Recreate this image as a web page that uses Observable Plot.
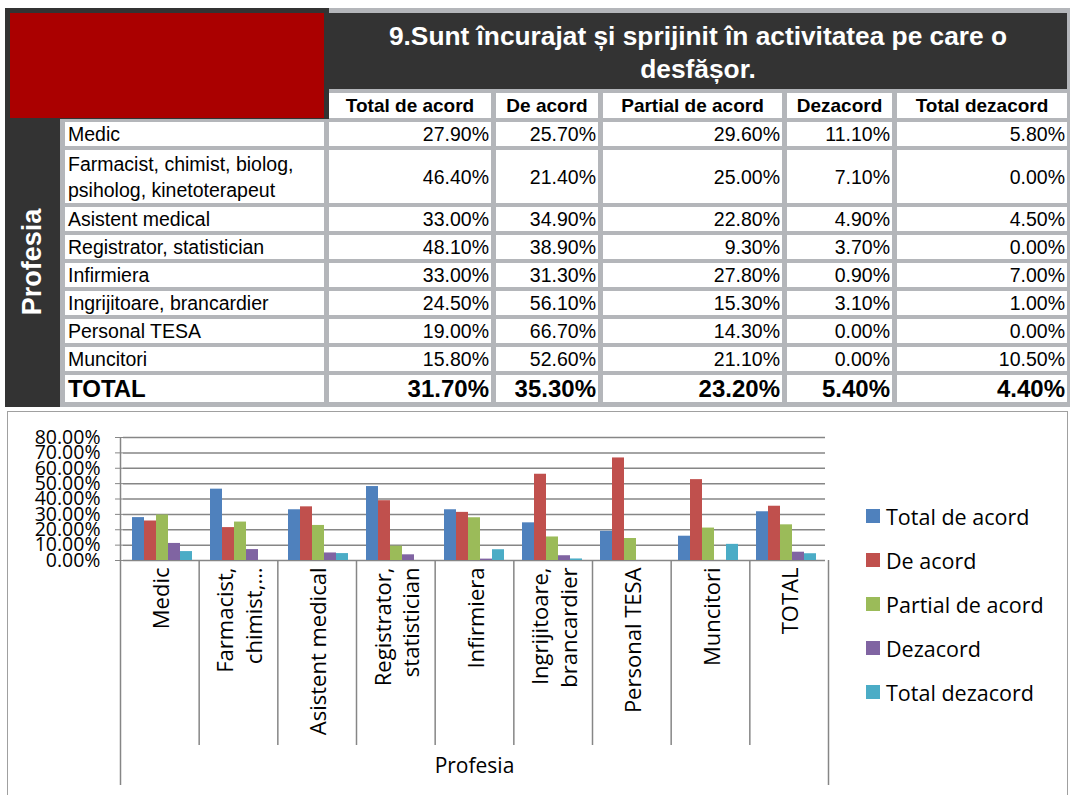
<!DOCTYPE html>
<html>
<head>
<meta charset="utf-8">
<script src="https://cdn.jsdelivr.net/npm/d3@7"></script>
<script src="https://cdn.jsdelivr.net/npm/@observablehq/plot@0.6"></script>
<style>
  body { margin: 0; background: #fff; }
  #page { position: relative; width: 1070px; height: 795px; overflow: hidden; font-family: "Liberation Sans", Arial, sans-serif; }
  #tbl { position: absolute; left: 5px; top: 8px; box-sizing: border-box; width: 1065px; padding: 5px 3px 5px 0;
         background: #b4b6ba; display: grid;
         grid-template-columns: 55px 259px 162px 102px 179px 105px 170px;
         grid-template-rows: 76px 25px 24px 53px 24px 24px 24px 24px 24px 24px 27px;
         column-gap: 5px; row-gap: 4px; }
  .back { position: absolute; background: #333333; z-index: 0; }
  .cell { position: relative; z-index: 1; background: #fff; color: #000; font-size: 19.5px; line-height: 24px;
          box-sizing: border-box; overflow: hidden; white-space: pre; display: flex; align-items: center; }
  .num { justify-content: flex-end; padding-right: 2px; }
  .lab { padding-left: 3px; line-height: 26px; }
  .hdr { justify-content: center; font-weight: bold; font-size: 19px; }
  .tot { font-weight: bold; font-size: 24px; }
  .title { background: #333333; color: #fff; font-weight: bold; font-size: 26.3px; line-height: 33px;
           justify-content: center; text-align: center; white-space: normal; padding-top: 3px; }
  .red { background: #aa0000; margin-left: 5px; }
  .prof { background: #333333; color: #fff; justify-content: center; overflow: visible; }
  .prof span { display: block; transform: rotate(-90deg); font-weight: bold; font-size: 27px; white-space: nowrap; }
  #frame { position: absolute; left: 7px; top: 411px; width: 1061px; height: 400px; box-sizing: border-box;
           border: 1.5px solid #a0a0a0; background: #fff; }
  .layer { position: absolute; left: 0; top: 0; }
  .layer svg [aria-label^="y-axis"] text { fill: #000; }
  #legend { position: absolute; left: 866px; top: 494px; font-family: "Open Sans", sans-serif; font-size: 21.5px; color: #000; }
  .li { display: flex; align-items: center; height: 44px; }
  .sw { width: 14px; height: 14px; margin-right: 6px; }
</style>
</head>
<body>
<div id="page">
  <div id="tbl"></div>
  <div id="frame"></div>
  <div id="bars" class="layer"></div>
  <div id="cats" class="layer"></div>
  <div id="legend"></div>
</div>
<script>
// ---------- data ----------
const titleLines = ["9.Sunt încurajat și sprijinit în activitatea pe care o", "desfășor."];
const groupLabel = "Profesia";
const professions = ["Medic", "Farmacist, chimist, biolog,\npsiholog, kinetoterapeut", "Asistent medical",
  "Registrator, statistician", "Infirmiera", "Ingrijitoare, brancardier", "Personal TESA", "Muncitori", "TOTAL"];
const chartLabels = ["Medic", "Farmacist,\nchimist,…", "Asistent medical", "Registrator,\nstatistician",
  "Infirmiera", "Ingrijitoare,\nbrancardier", "Personal TESA", "Muncitori", "TOTAL"];
const series = ["Total de acord", "De acord", "Partial de acord", "Dezacord", "Total dezacord"];
const colors = ["#4f81bd", "#c0504d", "#9bbb59", "#8064a2", "#4bacc6"];
const totalDeAcord  = [27.9, 46.4, 33.0, 48.1, 33.0, 24.5, 19.0, 15.8, 31.7];
const deAcord       = [25.7, 21.4, 34.9, 38.9, 31.3, 56.1, 66.7, 52.6, 35.3];
const partialAcord  = [29.6, 25.0, 22.8,  9.3, 27.8, 15.3, 14.3, 21.1, 23.2];
const dezacord      = [11.1,  7.1,  4.9,  3.7,  0.9,  3.1,  0.0,  0.0,  5.4];
const totalDezacord = [ 5.8,  0.0,  4.5,  0.0,  7.0,  1.0,  0.0, 10.5,  4.4];
const yTicks = [0, 10, 20, 30, 40, 50, 60, 70, 80];
const yTickLabels = ["0.00%", "10.00%", "20.00%", "30.00%", "40.00%", "50.00%", "60.00%", "70.00%", "80.00%"];

const seriesValues = [totalDeAcord, deAcord, partialAcord, dezacord, totalDezacord];
const fmt = v => v.toFixed(2) + "%";

// ---------- table ----------
const tbl = document.getElementById("tbl");
function add(cls, text, col, row, html) {
  const d = document.createElement("div");
  d.className = "cell " + cls;
  d.style.gridColumn = col; d.style.gridRow = row;
  if (html) d.innerHTML = html; else d.textContent = text;
  tbl.appendChild(d);
  return d;
}
const b1 = document.createElement("div"); b1.className = "back";
Object.assign(b1.style, {left: "0px", top: "0px", width: "324px", height: "111px"}); tbl.appendChild(b1);
const b2 = document.createElement("div"); b2.className = "back";
Object.assign(b2.style, {left: "0px", top: "0px", width: "55px", height: "100%"}); tbl.appendChild(b2);

add("red", "", "1 / 3", "1 / 3");
add("title", "", "3 / 8", "1", titleLines.join("<br>"));
series.forEach((s, j) => add("hdr", s, String(j + 3), "2"));
add("prof", "", "1", "3 / 12", `<span>${groupLabel}</span>`);
professions.forEach((p, i) => {
  const isTot = i === professions.length - 1;
  add("lab" + (isTot ? " tot" : ""), p, "2", String(i + 3));
  seriesValues.forEach((vals, j) => add("num" + (isTot ? " tot" : ""), fmt(vals[i]), String(j + 3), String(i + 3)));
});

// ---------- chart ----------
const rows = professions.flatMap((c, i) => series.map((s, j) => ({cat: c, series: s, value: seriesValues[j][i]})));
const grid = "#868686";

const bars = Plot.plot({
  width: 1070, height: 795,
  marginLeft: 120, marginRight: 242, marginTop: 437, marginBottom: 235,
  style: {background: "transparent", color: grid, fontFamily: "Open Sans", fontSize: "19.5px"},
  facet: {data: rows, x: "cat"},
  fx: {domain: professions, padding: 0, axis: null},
  x: {domain: series, paddingInner: 0, paddingOuter: 0.7, axis: null},
  y: {domain: [0, 80], ticks: yTicks, tickFormat: d => yTickLabels[yTicks.indexOf(d)], tickSize: 8, tickPadding: 15, label: null},
  color: {domain: series, range: colors},
  marks: [
    Plot.ruleY(yTicks, {stroke: grid, strokeWidth: 1.5}),
    Plot.barY(rows, {x: "series", y: "value", fill: "series"})
  ]
});
document.getElementById("bars").appendChild(bars);

const n = chartLabels.length;
const cats = Plot.plot({
  width: 1070, height: 795,
  marginLeft: 120, marginRight: 242, marginTop: 560, marginBottom: 50,
  style: {background: "transparent", fontFamily: "Open Sans"},
  x: {domain: [0, n], axis: null},
  marks: [
    Plot.ruleX(d3.range(1, n), {stroke: grid, strokeWidth: 1.5}),
    Plot.ruleX([0], {stroke: grid, strokeWidth: 1.5, insetTop: -123, insetBottom: -40}),
    Plot.ruleX([n], {stroke: grid, strokeWidth: 1.5, insetBottom: -40}),
    Plot.text(chartLabels, {x: (d, i) => i + 0.5, text: d => d, frameAnchor: "top", rotate: -90,
      textAnchor: "end", lineAnchor: "middle", dy: 7, fontSize: 22, lineHeight: 1.3, fill: "#000"}),
    Plot.text([groupLabel], {x: n / 2, text: d => d, frameAnchor: "bottom", dy: 27, fontSize: 21, fill: "#000"})
  ]
});
document.getElementById("cats").appendChild(cats);

// ---------- legend ----------
const legend = document.getElementById("legend");
series.forEach((s, j) => {
  const li = document.createElement("div"); li.className = "li";
  const sw = document.createElement("div"); sw.className = "sw"; sw.style.background = colors[j];
  const t = document.createElement("span"); t.textContent = s;
  li.appendChild(sw); li.appendChild(t); legend.appendChild(li);
});
</script>
</body>
</html>
